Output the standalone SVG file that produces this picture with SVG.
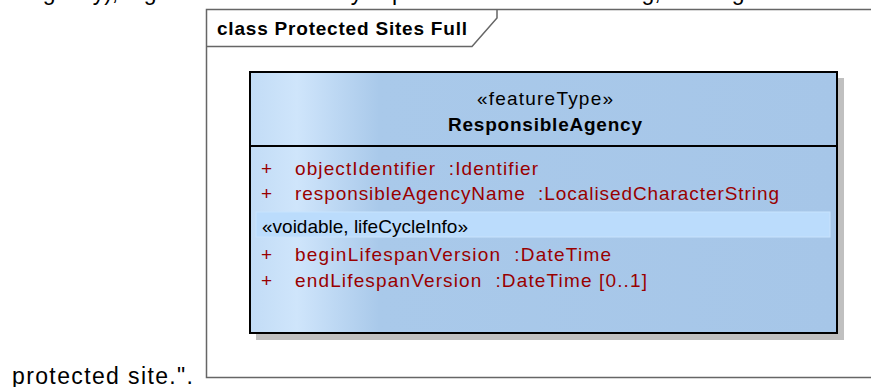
<svg xmlns="http://www.w3.org/2000/svg" width="871" height="387" viewBox="0 0 871 387">
  <style>
    .page { font-family: "Liberation Sans", Arial, sans-serif; font-size: 23px; fill: #000; }
    .frame { fill: #fff; stroke: #666; stroke-width: 1.5; }
    .title { font-family: "Liberation Sans", Arial, sans-serif; font-size: 19px; font-weight: bold; fill: #000; }
    .stereo { font-family: "Liberation Sans", Arial, sans-serif; font-size: 19px; fill: #000; }
    .cname { font-family: "Liberation Sans", Arial, sans-serif; font-size: 19px; font-weight: bold; fill: #000; }
    .attr { font-family: "Liberation Sans", Arial, sans-serif; font-size: 19px; fill: #900; }
  </style>
  <defs>
    <linearGradient id="classFill" x1="250" y1="0" x2="837" y2="0" gradientUnits="userSpaceOnUse">
      <stop offset="0" stop-color="#c2dcf6"/>
      <stop offset="0.08" stop-color="#cfe5fb"/>
      <stop offset="0.22" stop-color="#a9c9ea"/>
      <stop offset="1" stop-color="#a6c6e8"/>
    </linearGradient>
  </defs>

  <rect width="871" height="387" fill="#fff"/>

  <!-- surrounding document text, clipped by the page edges -->
  <text class="page" y="-0.5">
    <tspan x="30">agency), e.g.</tspan>
    <tspan x="338">by</tspan>
    <tspan x="392">p</tspan>
    <tspan x="598">being,</tspan>
    <tspan x="701">long</tspan>
  </text>
  <text class="page" x="12" y="384" textLength="181" lengthAdjust="spacing">protected site.".</text>

  <!-- diagram frame with name tab -->
  <g id="frame">
    <rect class="frame" x="206.5" y="9.5" width="680" height="368"/>
    <path d="M206.5 46.5 H472 L497 18 V9.5" fill="none" stroke="#666" stroke-width="1.5"/>
    <text class="title" x="217" y="35" textLength="250" lengthAdjust="spacing">class Protected Sites Full</text>
  </g>

  <!-- feature type class -->
  <g id="ResponsibleAgency">
    <rect x="256" y="78" width="588" height="262" fill="#c0c0c0"/>
    <rect x="250" y="72" width="587" height="261" fill="url(#classFill)" stroke="#000" stroke-width="2"/>
    <line x1="250" y1="146" x2="837" y2="146" stroke="#000" stroke-width="2"/>
    <text class="stereo" x="545" y="105" text-anchor="middle" textLength="136" lengthAdjust="spacing">«featureType»</text>
    <text class="cname" x="545" y="131" text-anchor="middle" textLength="194" lengthAdjust="spacing">ResponsibleAgency</text>

    <text class="attr" x="261" y="175">+</text>
    <text class="attr" x="295" y="175" textLength="243" lengthAdjust="spacing" xml:space="preserve">objectIdentifier  :Identifier</text>
    <text class="attr" x="261" y="200">+</text>
    <text class="attr" x="295" y="200" textLength="484" lengthAdjust="spacing" xml:space="preserve">responsibleAgencyName  :LocalisedCharacterString</text>

    <rect x="256" y="212" width="574" height="25" fill="#bbdcfc" stroke="#c8e3fd" stroke-width="1"/>
    <text class="stereo" x="262" y="233">«voidable, lifeCycleInfo»</text>

    <text class="attr" x="261" y="261">+</text>
    <text class="attr" x="295" y="261" textLength="316" lengthAdjust="spacing" xml:space="preserve">beginLifespanVersion  :DateTime</text>
    <text class="attr" x="261" y="287">+</text>
    <text class="attr" x="295" y="287" textLength="352" lengthAdjust="spacing" xml:space="preserve">endLifespanVersion  :DateTime [0..1]</text>
  </g>

  <g id="connectors"/>
</svg>
